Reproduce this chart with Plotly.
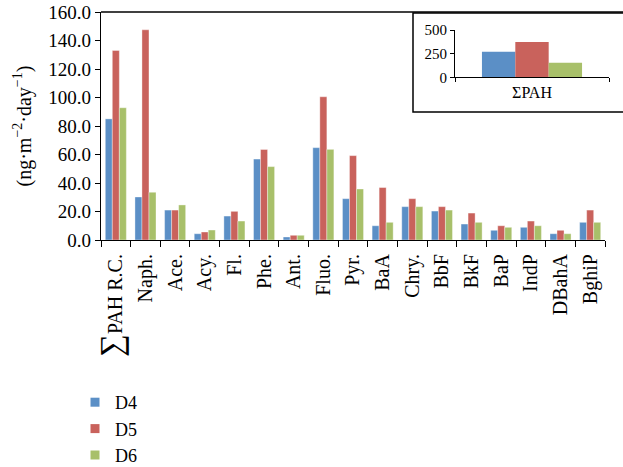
import plotly.graph_objects as go

categories = ["∑PAH R.C.", "Naph.", "Ace.", "Acy.", "Fl.", "Phe.", "Ant.", "Fluo.", "Pyr.",
              "BaA", "Chry.", "BbF", "BkF", "BaP", "IndP", "DBahA", "BghiP"]
d4 = [85.0, 30.2, 21.0, 4.4, 16.8, 56.8, 2.1, 64.8, 29.0, 10.0, 23.4, 20.3, 11.2, 6.8, 8.9, 4.4, 12.4]
d5 = [133.0, 147.5, 21.0, 5.6, 20.1, 63.5, 3.3, 100.5, 59.2, 36.8, 29.0, 23.4, 18.9, 10.0, 13.3, 6.8, 21.0]
d6 = [92.8, 33.5, 24.6, 7.0, 13.3, 51.5, 3.3, 63.6, 35.8, 12.4, 23.4, 21.0, 12.4, 8.9, 10.0, 4.4, 12.4]

total_category = ["ΣPAH"]
total_d4 = [270]
total_d5 = [373]
total_d6 = [154]

series_names = ["D4", "D5", "D6"]
colors = ["#5B8FC6", "#C9625C", "#A8C06A"]

y_ticks = [0, 20, 40, 60, 80, 100, 120, 140, 160]
inset_ticks = [0, 250, 500]

FONT = "Liberation Serif, Times New Roman, serif"

# tick text: the summation sign on the first label is drawn larger;
# a trailing no-break space keeps the rotated labels clear of the tick marks
tick_text = (['<span style="font-size:32px">∑</span>' + categories[0][1:] + "\u00a0"]
             + [c + "\u00a0" for c in categories[1:]])

fig = go.Figure()

# inset bars: explicit widths/offsets so the three bars fill ~65% of the slot
inset_width = 0.65 / 3
inset_offsets = [-0.325, -0.325 + inset_width, -0.325 + 2 * inset_width]

main_series = [d4, d5, d6]
inset_series = [total_d4, total_d5, total_d6]
for name, color, vals, tot, off in zip(series_names, colors, main_series, inset_series, inset_offsets):
    fig.add_trace(go.Bar(x=categories, y=vals, name=name, marker_color=color,
                         marker_line=dict(color="rgba(255,255,255,0.6)", width=0.6),
                         showlegend=False, xaxis="x", yaxis="y"))
    fig.add_trace(go.Bar(x=total_category, y=tot, name=name, marker_color=color,
                         marker_line_width=0, width=inset_width, offset=off,
                         showlegend=False, xaxis="x2", yaxis="y2"))
    # legend entry with a small square swatch
    fig.add_trace(go.Scatter(x=[None], y=[None], mode="markers", name=name,
                             marker=dict(symbol="square", size=9, color=color),
                             xaxis="x", yaxis="y"))

W, H = 623, 467
L, R, T, B = 101, 10, 12, 227
pw = W - L - R
ph = H - T - B


def px_x(x):
    return (x - L) / pw


def px_y(y):
    return (H - B - y) / ph


fig.update_layout(
    width=W, height=H,
    margin=dict(l=L, r=R, t=T, b=B, autoexpand=False),
    paper_bgcolor="white", plot_bgcolor="white",
    font=dict(family=FONT, size=18, color="black"),
    barmode="group", bargap=0.29, bargroupgap=0,
    xaxis=dict(domain=[0, px_x(605)], type="category", tickmode="array",
               tickvals=categories, ticktext=tick_text, tickangle=-90,
               ticks="outside", tickson="boundaries", ticklen=6, tickcolor="black",
               showline=True, linecolor="black", linewidth=1.2, showgrid=False,
               automargin=False,
               tickfont=dict(size=20), range=[-0.5, len(categories) - 0.5]),
    yaxis=dict(range=[0, 160], tickvals=y_ticks, tickformat=".1f",
               ticks="outside", ticklen=5, tickcolor="black",
               showline=True, linecolor="black", linewidth=1.2, showgrid=False,
               zeroline=False, tickfont=dict(size=19), automargin=False,
               title=dict(text="(ng·m<sup>−2</sup>·day<sup>−1</sup>)", standoff=11,
                          font=dict(size=20))),
    xaxis2=dict(domain=[px_x(455), px_x(609)], anchor="y2", type="category",
                ticks="outside", tickson="boundaries", ticklen=4, tickcolor="black",
                showline=True, linecolor="black", linewidth=1.2, showgrid=False,
                automargin=False,
                tickfont=dict(size=16), range=[-0.5, 0.5]),
    yaxis2=dict(domain=[px_y(77.3), px_y(30)], anchor="x2", range=[0, 500],
                tickvals=inset_ticks, ticks="outside", ticklen=4, tickcolor="black",
                showline=True, linecolor="black", linewidth=1.2, showgrid=False,
                zeroline=False, tickfont=dict(size=15), automargin=False),
    legend=dict(x=px_x(75), y=px_y(384), xanchor="left", yanchor="top",
                font=dict(size=18), tracegroupgap=0, itemwidth=30,
                bgcolor="rgba(0,0,0,0)"),
    shapes=[
        dict(type="line", xref="paper", yref="paper", x0=0, x1=1.1, y0=1, y1=1,
             line=dict(color="black", width=1.3)),
        dict(type="rect", xref="paper", yref="paper", x0=px_x(413), x1=1.1,
             y0=px_y(112), y1=px_y(13), line=dict(color="black", width=1.5),
             fillcolor="white", layer="below"),
    ],
)

fig.write_html("out.html")
